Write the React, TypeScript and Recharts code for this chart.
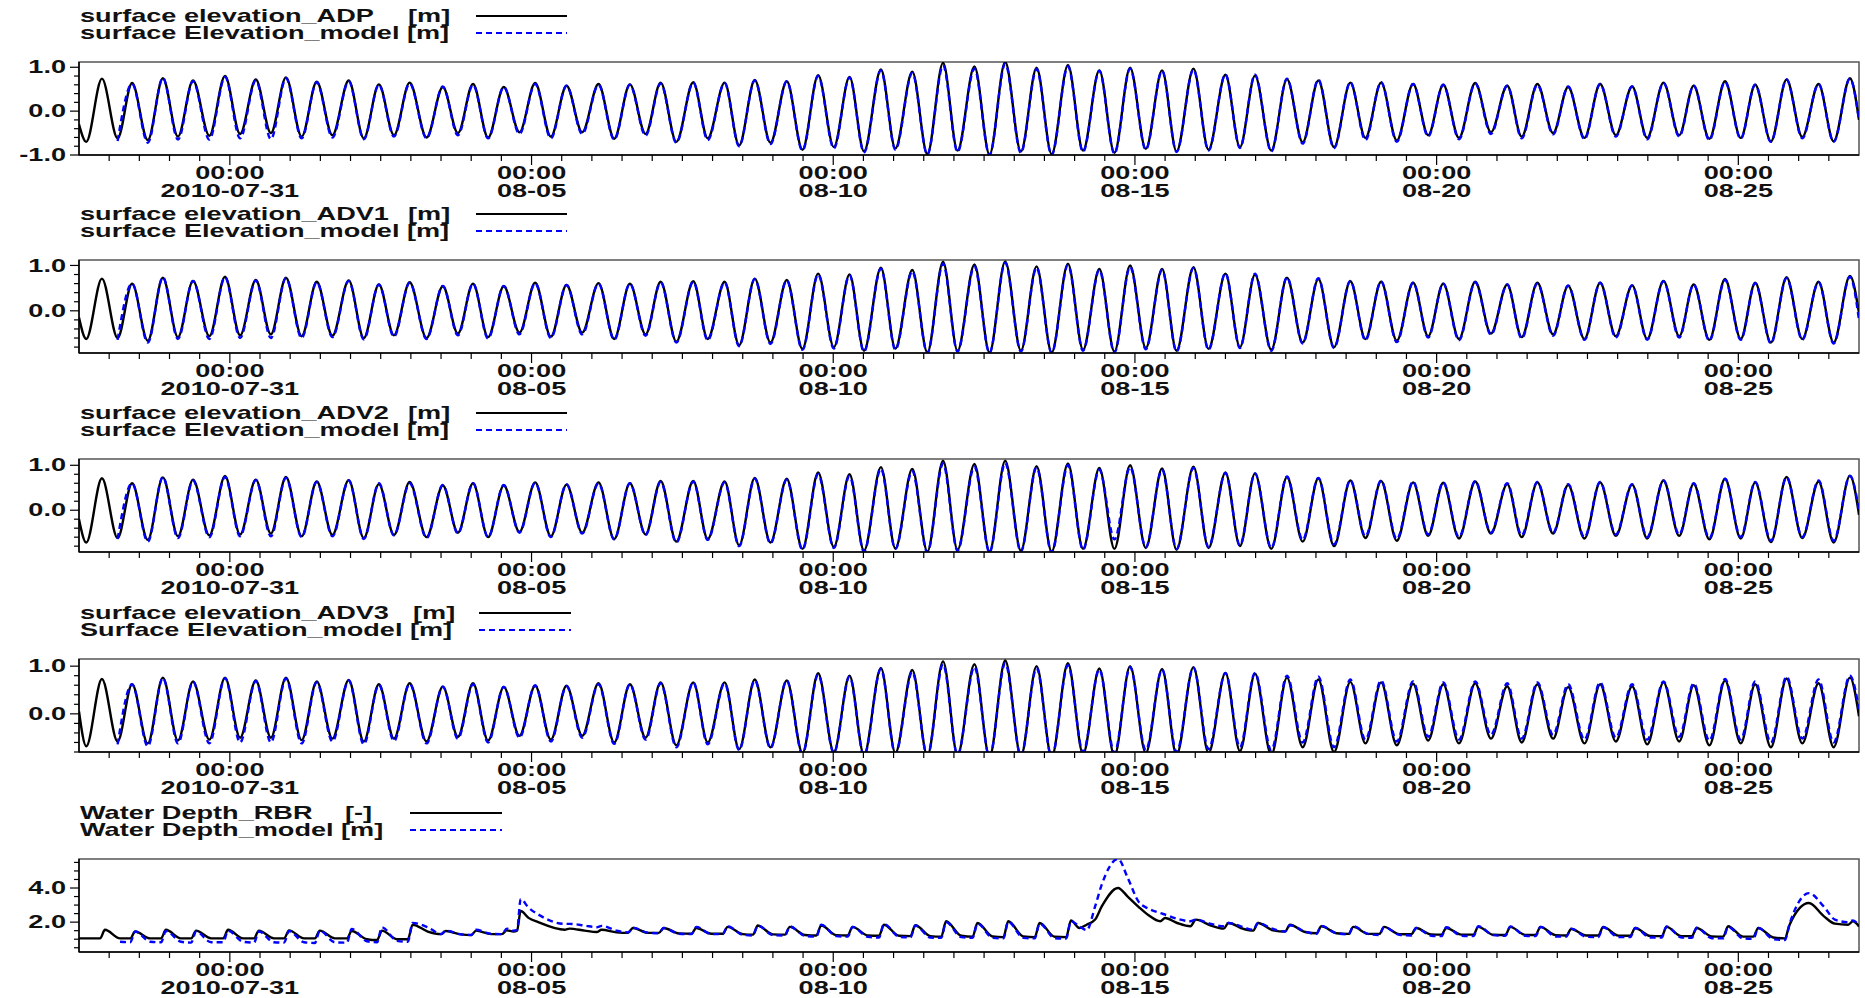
import React from "react";
import { LineChart, Line, XAxis, YAxis, ReferenceArea } from "recharts";

// time axis: days relative to 2010-07-31 00:00
const majorDays = [0, 5, 10, 15, 20, 25];
const majorTimes = ["00:00", "00:00", "00:00", "00:00", "00:00", "00:00"];
const majorDates = ["2010-07-31", "08-05", "08-10", "08-15", "08-20", "08-25"];

// tidal extremes (start, low/high alternating, end)
const tideDays = [
  -2.5, -2.38, -2.12, -1.86, -1.62, -1.36, -1.11, -0.86, -0.61, -0.34,
  -0.08, 0.17, 0.43, 0.68, 0.93, 1.19, 1.44, 1.7, 1.97, 2.22,
  2.47, 2.72, 2.98, 3.26, 3.53, 3.78, 4.03, 4.28, 4.54, 4.8,
  5.06, 5.32, 5.58, 5.84, 6.11, 6.37, 6.63, 6.89, 7.14, 7.4,
  7.68, 7.92, 8.2, 8.44, 8.7, 8.96, 9.23, 9.49, 9.75, 10.01,
  10.27, 10.51, 10.79, 11.03, 11.31, 11.56, 11.82, 12.06, 12.34, 12.59,
  12.85, 13.11, 13.37, 13.62, 13.89, 14.14, 14.41, 14.66, 14.92, 15.18,
  15.45, 15.69, 15.97, 16.22, 16.5, 16.74, 16.99, 17.26, 17.52, 17.78,
  18.04, 18.3, 18.57, 18.82, 19.08, 19.34, 19.61, 19.86, 20.11, 20.37,
  20.64, 20.9, 21.17, 21.41, 21.67, 21.93, 22.18, 22.45, 22.71, 22.97,
  23.24, 23.49, 23.76, 24.02, 24.26, 24.52, 24.78, 25.04, 25.28, 25.54,
  25.8, 26.06, 26.33, 26.58, 26.85, 27.0,
];

const adpObs = [
  -0.3, -0.7, 0.74, -0.62, 0.64, -0.66, 0.75, -0.58, 0.7, -0.56,
  0.8, -0.52, 0.72, -0.5, 0.77, -0.58, 0.67, -0.55, 0.7, -0.62,
  0.61, -0.55, 0.65, -0.6, 0.55, -0.5, 0.62, -0.6, 0.55, -0.48,
  0.64, -0.58, 0.58, -0.48, 0.62, -0.63, 0.61, -0.52, 0.65, -0.7,
  0.66, -0.62, 0.65, -0.78, 0.71, -0.72, 0.68, -0.88, 0.82, -0.82,
  0.78, -0.92, 0.95, -0.85, 0.9, -0.98, 1.1, -0.9, 1.02, -0.99,
  1.12, -0.92, 0.99, -0.98, 1.05, -0.9, 0.93, -0.95, 0.99, -0.86,
  0.93, -0.92, 0.97, -0.88, 0.83, -0.82, 0.81, -0.9, 0.73, -0.71,
  0.7, -0.82, 0.65, -0.61, 0.65, -0.67, 0.62, -0.55, 0.6, -0.61,
  0.64, -0.48, 0.58, -0.58, 0.62, -0.5, 0.55, -0.61, 0.62, -0.55,
  0.56, -0.61, 0.65, -0.55, 0.58, -0.63, 0.68, -0.61, 0.6, -0.69,
  0.72, -0.59, 0.62, -0.69, 0.75, -0.2,
];
const adpModel = [
  null, null, null, -0.68, 0.62, -0.72, 0.76, -0.65, 0.68, -0.65,
  0.78, -0.62, 0.7, -0.64, 0.75, -0.62, 0.66, -0.6, 0.68, -0.64,
  0.6, -0.58, 0.63, -0.62, 0.56, -0.55, 0.6, -0.62, 0.55, -0.52,
  0.62, -0.62, 0.58, -0.52, 0.6, -0.65, 0.6, -0.56, 0.63, -0.72,
  0.65, -0.66, 0.64, -0.8, 0.7, -0.75, 0.68, -0.9, 0.8, -0.85,
  0.77, -0.94, 0.93, -0.88, 0.87, -0.99, 1.04, -0.93, 0.97, -1.0,
  1.08, -0.95, 0.96, -1.0, 1.02, -0.93, 0.92, -0.97, 0.97, -0.88,
  0.92, -0.93, 0.95, -0.9, 0.84, -0.84, 0.83, -0.92, 0.74, -0.74,
  0.72, -0.84, 0.66, -0.66, 0.66, -0.7, 0.62, -0.58, 0.6, -0.64,
  0.63, -0.52, 0.58, -0.62, 0.6, -0.53, 0.56, -0.64, 0.62, -0.58,
  0.56, -0.64, 0.64, -0.58, 0.58, -0.66, 0.67, -0.63, 0.6, -0.7,
  0.72, -0.62, 0.62, -0.7, 0.74, -0.2,
];

const adv1Obs = [
  -0.15, -0.62, 0.71, -0.6, 0.6, -0.66, 0.73, -0.58, 0.66, -0.56,
  0.75, -0.54, 0.68, -0.52, 0.73, -0.56, 0.64, -0.55, 0.67, -0.6,
  0.58, -0.54, 0.63, -0.6, 0.54, -0.5, 0.6, -0.58, 0.54, -0.48,
  0.62, -0.57, 0.57, -0.48, 0.61, -0.62, 0.6, -0.52, 0.64, -0.68,
  0.65, -0.62, 0.64, -0.76, 0.71, -0.7, 0.68, -0.84, 0.82, -0.8,
  0.8, -0.88, 0.95, -0.83, 0.9, -0.92, 1.08, -0.88, 1.02, -0.92,
  1.09, -0.88, 0.98, -0.92, 1.04, -0.86, 0.92, -0.9, 1.0, -0.82,
  0.92, -0.88, 0.96, -0.84, 0.82, -0.8, 0.8, -0.86, 0.73, -0.7,
  0.7, -0.8, 0.65, -0.62, 0.64, -0.66, 0.62, -0.56, 0.6, -0.62,
  0.64, -0.5, 0.58, -0.58, 0.62, -0.52, 0.55, -0.62, 0.62, -0.56,
  0.56, -0.62, 0.66, -0.56, 0.58, -0.64, 0.7, -0.62, 0.62, -0.7,
  0.74, -0.62, 0.64, -0.7, 0.77, -0.05,
];
const adv1Model = [
  null, null, null, -0.64, 0.6, -0.7, 0.74, -0.62, 0.66, -0.62,
  0.74, -0.6, 0.67, -0.6, 0.72, -0.6, 0.63, -0.58, 0.66, -0.63,
  0.58, -0.57, 0.62, -0.62, 0.55, -0.54, 0.6, -0.61, 0.55, -0.52,
  0.61, -0.6, 0.57, -0.52, 0.6, -0.64, 0.6, -0.55, 0.63, -0.7,
  0.64, -0.65, 0.63, -0.78, 0.7, -0.73, 0.67, -0.86, 0.8, -0.83,
  0.78, -0.9, 0.93, -0.86, 0.87, -0.93, 1.04, -0.9, 0.98, -0.93,
  1.06, -0.9, 0.95, -0.93, 1.01, -0.88, 0.9, -0.92, 0.97, -0.85,
  0.9, -0.9, 0.94, -0.86, 0.83, -0.82, 0.82, -0.88, 0.74, -0.72,
  0.72, -0.82, 0.66, -0.65, 0.65, -0.69, 0.62, -0.59, 0.6, -0.65,
  0.63, -0.53, 0.58, -0.61, 0.6, -0.55, 0.56, -0.64, 0.62, -0.59,
  0.56, -0.64, 0.65, -0.59, 0.58, -0.66, 0.68, -0.64, 0.61, -0.72,
  0.72, -0.64, 0.63, -0.72, 0.75, -0.2,
];

const adv2Obs = [
  -0.2, -0.72, 0.71, -0.62, 0.6, -0.66, 0.73, -0.58, 0.68, -0.56,
  0.76, -0.54, 0.68, -0.52, 0.74, -0.58, 0.64, -0.55, 0.67, -0.62,
  0.58, -0.55, 0.63, -0.6, 0.55, -0.5, 0.6, -0.6, 0.55, -0.48,
  0.62, -0.58, 0.57, -0.5, 0.62, -0.64, 0.6, -0.54, 0.65, -0.7,
  0.65, -0.64, 0.64, -0.78, 0.72, -0.72, 0.7, -0.86, 0.84, -0.82,
  0.8, -0.9, 0.96, -0.85, 0.92, -0.92, 1.1, -0.88, 1.03, -0.92,
  1.1, -0.9, 0.98, -0.92, 1.04, -0.86, 0.94, -0.86, 1.0, -0.84,
  0.93, -0.88, 0.97, -0.84, 0.84, -0.8, 0.82, -0.86, 0.74, -0.7,
  0.71, -0.8, 0.66, -0.62, 0.65, -0.68, 0.62, -0.57, 0.61, -0.63,
  0.64, -0.52, 0.58, -0.6, 0.62, -0.52, 0.56, -0.63, 0.62, -0.57,
  0.57, -0.63, 0.66, -0.57, 0.59, -0.65, 0.7, -0.63, 0.62, -0.71,
  0.74, -0.62, 0.64, -0.72, 0.77, -0.1,
];
const adv2Model = [
  null, null, null, -0.64, 0.6, -0.7, 0.74, -0.62, 0.66, -0.6,
  0.74, -0.58, 0.67, -0.58, 0.72, -0.6, 0.63, -0.58, 0.66, -0.64,
  0.6, -0.56, 0.6, -0.62, 0.56, -0.52, 0.6, -0.6, 0.56, -0.5,
  0.61, -0.6, 0.58, -0.52, 0.6, -0.65, 0.6, -0.55, 0.63, -0.72,
  0.64, -0.66, 0.62, -0.8, 0.7, -0.74, 0.68, -0.88, 0.8, -0.84,
  0.76, -0.92, 0.92, -0.86, 0.87, -0.94, 1.04, -0.9, 0.97, -0.94,
  1.05, -0.92, 0.95, -0.94, 1.0, -0.88, 0.9, -0.65, 0.96, -0.82,
  0.9, -0.86, 0.94, -0.82, 0.83, -0.78, 0.82, -0.84, 0.75, -0.66,
  0.72, -0.76, 0.67, -0.58, 0.66, -0.64, 0.64, -0.54, 0.62, -0.6,
  0.65, -0.5, 0.6, -0.56, 0.63, -0.5, 0.58, -0.6, 0.63, -0.54,
  0.58, -0.6, 0.66, -0.54, 0.6, -0.62, 0.7, -0.6, 0.63, -0.68,
  0.73, -0.6, 0.66, -0.68, 0.76, 0.0,
];

const adv3Obs = [
  0.05, -0.68, 0.73, -0.58, 0.62, -0.62, 0.76, -0.56, 0.68, -0.54,
  0.76, -0.5, 0.7, -0.5, 0.76, -0.55, 0.68, -0.52, 0.71, -0.58,
  0.62, -0.52, 0.64, -0.58, 0.57, -0.48, 0.64, -0.56, 0.56, -0.46,
  0.59, -0.54, 0.59, -0.46, 0.64, -0.6, 0.62, -0.5, 0.66, -0.66,
  0.66, -0.6, 0.66, -0.74, 0.72, -0.7, 0.7, -0.82, 0.85, -0.8,
  0.8, -0.86, 0.96, -0.82, 0.92, -0.88, 1.1, -0.86, 1.04, -0.9,
  1.12, -0.88, 1.0, -0.9, 1.06, -0.84, 0.95, -0.88, 1.0, -0.82,
  0.94, -0.86, 0.98, -0.82, 0.86, -0.78, 0.84, -0.86, 0.76, -0.7,
  0.72, -0.8, 0.67, -0.62, 0.66, -0.66, 0.63, -0.56, 0.62, -0.62,
  0.64, -0.52, 0.58, -0.6, 0.62, -0.52, 0.56, -0.62, 0.62, -0.58,
  0.58, -0.64, 0.66, -0.58, 0.6, -0.66, 0.7, -0.62, 0.62, -0.7,
  0.74, -0.62, 0.64, -0.7, 0.76, -0.05,
];
const adv3Model = [
  null, null, null, -0.64, 0.62, -0.68, 0.75, -0.62, 0.67, -0.62,
  0.75, -0.6, 0.69, -0.6, 0.74, -0.62, 0.66, -0.58, 0.7, -0.64,
  0.61, -0.57, 0.63, -0.62, 0.57, -0.52, 0.62, -0.6, 0.57, -0.5,
  0.6, -0.58, 0.58, -0.5, 0.62, -0.63, 0.62, -0.54, 0.64, -0.7,
  0.66, -0.64, 0.64, -0.76, 0.7, -0.72, 0.7, -0.84, 0.82, -0.82,
  0.78, -0.88, 0.94, -0.84, 0.88, -0.88, 1.04, -0.86, 0.98, -0.9,
  1.06, -0.88, 0.96, -0.9, 1.02, -0.8, 0.93, -0.82, 0.98, -0.76,
  0.93, -0.8, 0.97, -0.74, 0.86, -0.7, 0.86, -0.76, 0.8, -0.6,
  0.78, -0.7, 0.72, -0.54, 0.7, -0.58, 0.68, -0.48, 0.66, -0.54,
  0.68, -0.44, 0.64, -0.52, 0.66, -0.44, 0.62, -0.54, 0.66, -0.5,
  0.62, -0.54, 0.68, -0.48, 0.64, -0.56, 0.73, -0.54, 0.68, -0.6,
  0.78, -0.52, 0.72, -0.6, 0.8, 0.1,
];

// water depth: per tide a rise start, bump top and end of fall; surges spelled out
const depthDays = [
  -2.5,
  -2.15, -2.07, -1.82, -1.65, -1.57, -1.32, -1.14, -1.06, -0.81,
  -0.64, -0.56, -0.31, -0.11, -0.03, 0.22, 0.4, 0.48, 0.73,
  0.9, 0.98, 1.23, 1.41, 1.49, 1.74, 1.94, 2.02, 2.27,
  2.44, 2.52, 2.77, 2.95, 3.03, 3.28, 3.5, 3.58, 3.83,
  4.0, 4.08, 4.33, 4.51, 4.59, 4.7,
  4.76, 4.82, 4.95, 5.11,
  5.55, 5.63, 5.88, 6.08, 6.16, 6.41, 6.6, 6.68, 6.93,
  7.11, 7.19, 7.44, 7.65, 7.73, 7.98, 8.17, 8.25, 8.5,
  8.67, 8.75, 9.0, 9.2, 9.28, 9.53, 9.72, 9.8, 10.05,
  10.24, 10.32, 10.57, 10.76, 10.84, 11.09, 11.28, 11.36, 11.61,
  11.79, 11.87, 12.12, 12.31, 12.39, 12.64, 12.82, 12.9, 13.15,
  13.34, 13.42, 13.67, 13.86, 13.94, 14.08,
  14.2, 14.34, 14.45, 14.72, 14.88,
  15.06, 15.22, 15.42, 15.5, 15.7,
  15.92, 16.01, 16.26, 16.47, 16.55, 16.8, 16.96, 17.04, 17.29,
  17.49, 17.57, 17.82, 18.01, 18.09, 18.34, 18.54, 18.62, 18.87,
  19.05, 19.13, 19.38, 19.58, 19.66, 19.91, 20.08, 20.16, 20.41,
  20.61, 20.69, 20.94, 21.14, 21.22, 21.47, 21.64, 21.72, 21.97,
  22.15, 22.23, 22.48, 22.68, 22.76, 23.01, 23.21, 23.29, 23.54,
  23.73, 23.81, 24.06, 24.23, 24.31, 24.56, 24.75, 24.83, 25.08,
  25.25, 25.33, 25.58,
  25.77, 25.85, 26.17,
  26.42, 26.6, 26.82,
  26.9, 27.0,
];
const rbrObs = [
  1.05,
  1.05, 1.55, 1.05, 1.05, 1.45, 1.05, 1.05, 1.55, 1.05,
  1.05, 1.5, 1.05, 1.05, 1.55, 1.05, 1.05, 1.5, 1.05,
  1.05, 1.52, 1.05, 1.05, 1.5, 1.05, 1.05, 1.48, 1.0,
  0.95, 1.5, 1.0, 1.0, 1.85, 1.45, 1.3, 1.48, 1.28,
  1.24, 1.5, 1.3, 1.3, 1.52, 1.45,
  1.5, 2.65, 2.25, 2.0,
  1.55, 1.62, 1.5, 1.42, 1.55, 1.4, 1.37, 1.66, 1.37,
  1.37, 1.66, 1.34, 1.32, 1.66, 1.32, 1.32, 1.72, 1.3,
  1.27, 1.8, 1.28, 1.27, 1.72, 1.25, 1.22, 1.8, 1.24,
  1.22, 1.72, 1.22, 1.2, 1.85, 1.2, 1.18, 1.82, 1.18,
  1.15, 2.05, 1.2, 1.15, 1.95, 1.16, 1.12, 2.05, 1.16,
  1.12, 1.95, 1.14, 1.12, 2.1, 1.66,
  1.85, 2.15, 2.92, 4.0, 3.5,
  2.9, 2.42, 2.05, 2.24, 1.95,
  1.76, 2.15, 1.8, 1.62, 1.95, 1.6, 1.5, 1.95, 1.52,
  1.45, 1.85, 1.42, 1.35, 1.76, 1.35, 1.31, 1.72, 1.31,
  1.31, 1.72, 1.3, 1.29, 1.66, 1.28, 1.27, 1.66, 1.27,
  1.27, 1.72, 1.26, 1.25, 1.72, 1.25, 1.25, 1.72, 1.24,
  1.22, 1.6, 1.22, 1.22, 1.72, 1.21, 1.2, 1.66, 1.19,
  1.18, 1.72, 1.18, 1.18, 1.66, 1.16, 1.15, 1.76, 1.15,
  1.15, 1.66, 1.1,
  1.05, 1.85, 3.12,
  2.34, 1.91, 1.85,
  2.05, 1.75,
];
const depthModel = [
  null,
  null, null, 0.85, 0.82, 1.45, 0.85, 0.82, 1.48, 0.85,
  0.8, 1.45, 0.82, 0.82, 1.5, 0.85, 0.8, 1.45, 0.82,
  0.8, 1.48, 0.82, 0.78, 1.5, 0.82, 0.8, 1.6, 0.88,
  0.82, 1.7, 0.9, 0.85, 1.95, 1.7, 1.3, 1.5, 1.28,
  1.25, 1.55, 1.32, 1.3, 1.62, 1.5,
  1.55, 3.35, 2.85, 2.45,
  1.9, 1.9, 1.8, 1.7, 1.78, 1.5, 1.4, 1.68, 1.38,
  1.35, 1.66, 1.32, 1.3, 1.72, 1.3, 1.3, 1.76, 1.26,
  1.22, 1.8, 1.24, 1.22, 1.75, 1.2, 1.15, 1.85, 1.18,
  1.15, 1.72, 1.14, 1.1, 1.9, 1.14, 1.1, 1.8, 1.1,
  1.08, 2.0, 1.12, 1.08, 1.92, 1.08, 1.05, 2.02, 1.08,
  1.05, 1.92, 1.06, 1.04, 2.05, 1.75,
  1.53, 2.92, 4.2, 5.7, 4.6,
  3.2, 2.8, 2.53, 2.44, 2.2,
  2.05, 2.15, 1.9, 1.76, 1.95, 1.7, 1.55, 1.95, 1.6,
  1.45, 1.82, 1.45, 1.32, 1.78, 1.35, 1.28, 1.76, 1.3,
  1.25, 1.72, 1.26, 1.22, 1.66, 1.2, 1.18, 1.7, 1.2,
  1.18, 1.76, 1.24, 1.2, 1.75, 1.2, 1.18, 1.72, 1.16,
  1.15, 1.62, 1.14, 1.12, 1.7, 1.12, 1.12, 1.66, 1.1,
  1.1, 1.75, 1.1, 1.08, 1.68, 1.06, 1.05, 1.72, 1.04,
  1.02, 1.66, 1.0,
  0.95, 1.9, 3.7,
  2.9, 2.15, 2.0,
  2.1, 1.78,
];

const FONT = '"Liberation Sans", Arial, sans-serif';
const X_DOMAIN: [number, number] = [-2.5, 27];
const halfDays: number[] = [];
for (let d = -2; d < 27; d += 0.5) halfDays.push(d);

function SText({ x, y, text, anchor }: { x: number; y: number; text: string; anchor: "start" | "middle" | "end" }) {
  return (
    <text
      transform={`translate(${x},${y}) scale(1.55,1)`}
      textAnchor={anchor}
      dominantBaseline="central"
      fontFamily={FONT}
      fontWeight="bold"
      fontSize={17.5}
      fill="#111"
    >
      {text}
    </text>
  );
}

function XTick(props: any) {
  const { x, y, payload } = props;
  const i = majorDays.indexOf(payload.value);
  const major = i >= 0;
  return (
    <g>
      <line x1={x} x2={x} y1={y} y2={y + (major ? 10 : 6)} stroke="#000" strokeWidth={1.2} />
      {major && (
        <>
          <SText x={x} y={y + 18} text={majorTimes[i]} anchor="middle" />
          <SText x={x} y={y + 36} text={majorDates[i]} anchor="middle" />
        </>
      )}
    </g>
  );
}

function makeYTick(labels: number[]) {
  return (props: any) => {
    const { x, y, payload } = props;
    const major = labels.some((l) => Math.abs(l - payload.value) < 1e-6);
    return (
      <g>
        <line x1={x - (major ? 9 : 5)} x2={x} y1={y} y2={y} stroke="#000" strokeWidth={1.2} />
        {major && <SText x={x - 13} y={y} text={payload.value.toFixed(1)} anchor="end" />}
      </g>
    );
  };
}

type PanelDef = {
  top: number;
  domain: [number, number];
  yTicks: number[];
  yLabels: number[];
  days: number[];
  obs: (number | null)[];
  model: (number | null)[];
  name1: string;
  unit1: string;
  unitX: number;
  name2: string;
  seg: [number, number];
};

function steps(from: number, to: number, step: number) {
  const out: number[] = [];
  for (let v = from; v <= to + 1e-9; v += step) out.push(Math.round(v * 100) / 100);
  return out;
}

const panels: PanelDef[] = [
  { top: 62, domain: [-1.0, 1.12], yTicks: steps(-1, 1, 0.2), yLabels: [1, 0, -1], days: tideDays, obs: adpObs, model: adpModel,
    name1: "surface elevation_ADP", unit1: "[m]", unitX: 408, name2: "surface Elevation_model [m]", seg: [476, 567] },
  { top: 260, domain: [-0.93, 1.12], yTicks: steps(-0.8, 1, 0.2), yLabels: [1, 0], days: tideDays, obs: adv1Obs, model: adv1Model,
    name1: "surface elevation_ADV1", unit1: "[m]", unitX: 408, name2: "surface Elevation_model [m]", seg: [476, 567] },
  { top: 459, domain: [-0.93, 1.14], yTicks: steps(-0.8, 1, 0.2), yLabels: [1, 0], days: tideDays, obs: adv2Obs, model: adv2Model,
    name1: "surface elevation_ADV2", unit1: "[m]", unitX: 408, name2: "surface Elevation_model [m]", seg: [476, 567] },
  { top: 659, domain: [-0.8, 1.15], yTicks: steps(-0.8, 1, 0.2), yLabels: [1, 0], days: tideDays, obs: adv3Obs, model: adv3Model,
    name1: "surface elevation_ADV3", unit1: "[m]", unitX: 413, name2: "Surface Elevation_model [m]", seg: [479, 571] },
  { top: 859, domain: [0.25, 5.7], yTicks: steps(0.5, 5.5, 0.5), yLabels: [2, 4], days: depthDays, obs: rbrObs, model: depthModel,
    name1: "Water Depth_RBR", unit1: "[-]", unitX: 345, name2: "Water Depth_model [m]", seg: [410, 502] },
];

function Panel({ p }: { p: PanelDef }) {
  const rows = p.days.map((t, i) => ({ t, obs: p.obs[i] ?? null, model: p.model[i] ?? null }));
  return (
    <div style={{ position: "absolute", left: 0, top: p.top - 62, width: 1865, height: 218 }}>
      <LineChart width={1865} height={218} data={rows} margin={{ top: 62, right: 6, bottom: 21, left: 0 }}>
        <XAxis
          type="number"
          dataKey="t"
          domain={X_DOMAIN}
          ticks={halfDays}
          interval={0}
          tickSize={0}
          tickMargin={0}
          height={42}
          tick={XTick}
          axisLine={{ stroke: "#000", strokeWidth: 1.5 }}
          allowDataOverflow
        />
        <YAxis
          type="number"
          domain={p.domain}
          ticks={p.yTicks}
          interval={0}
          tickSize={0}
          tickMargin={0}
          width={79}
          tick={makeYTick(p.yLabels)}
          axisLine={{ stroke: "#000", strokeWidth: 1.5 }}
          allowDataOverflow
        />
        <ReferenceArea
          x1={X_DOMAIN[0]}
          x2={X_DOMAIN[1]}
          y1={p.domain[0]}
          y2={p.domain[1]}
          fill="none"
          stroke="#555"
          strokeWidth={1.5}
          ifOverflow="visible"
        />
        <Line type="monotone" dataKey="obs" stroke="#000" strokeWidth={2.4} dot={false} isAnimationActive={false} />
        <Line
          type="monotone"
          dataKey="model"
          stroke="#0000ff"
          strokeWidth={2.4}
          strokeDasharray="6 4"
          dot={false}
          isAnimationActive={false}
        />
      </LineChart>
      <svg width={640} height={50} style={{ position: "absolute", left: 0, top: 0 }}>
        <SText x={80} y={16} text={p.name1} anchor="start" />
        <SText x={p.unitX} y={16} text={p.unit1} anchor="start" />
        <line x1={p.seg[0]} x2={p.seg[1]} y1={16} y2={16} stroke="#000" strokeWidth={2} />
        <SText x={80} y={33} text={p.name2} anchor="start" />
        <line x1={p.seg[0]} x2={p.seg[1]} y1={33} y2={33} stroke="#0000ff" strokeWidth={2} strokeDasharray="6 4" />
      </svg>
    </div>
  );
}

export default function App() {
  return (
    <div style={{ position: "fixed", left: 0, top: 0, width: 1865, height: 998, background: "#fff", overflow: "hidden" }}>
      {panels.map((p, i) => (
        <Panel key={i} p={p} />
      ))}
    </div>
  );
}
